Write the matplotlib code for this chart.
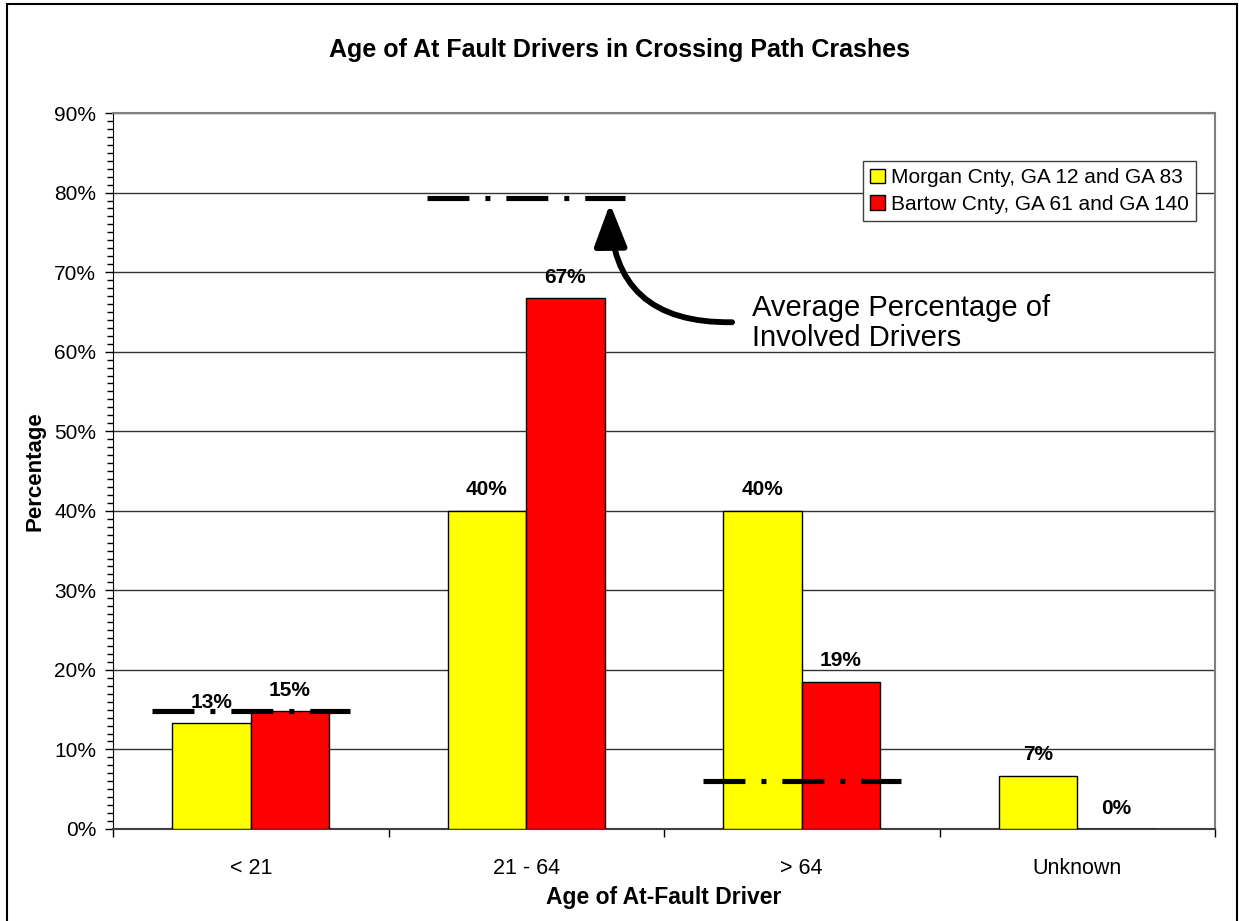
import numpy as np
import matplotlib
matplotlib.use("Agg")
import matplotlib.pyplot as plt
from matplotlib.patches import Patch, Rectangle
from matplotlib.ticker import MultipleLocator, FuncFormatter, FixedLocator

plt.rcParams['font.family'] = ['Liberation Sans', 'DejaVu Sans']
plt.rcParams['lines.scale_dashes'] = False

categories = ['< 21', '21 - 64', '> 64', 'Unknown']
morgan = [13.3, 40.0, 40.0, 6.7]
bartow = [14.8, 66.7, 18.52, 0.0]
avg_involved = [14.8, 79.3, 6.0]   # no line for Unknown
series_names = ['Morgan Cnty, GA 12 and GA 83', 'Bartow Cnty, GA 61 and GA 140']

fig = plt.figure(figsize=(12.39, 9.21), dpi=100)
ax = fig.add_axes([113/1239, 1 - 829/921, (1215-113)/1239, (829-113)/921])

x = np.arange(len(categories))
w = 0.285
ax.bar(x - w/2, morgan, w, color='#FFFF00', edgecolor='black', linewidth=1.0, zorder=3)
ax.bar(x + w/2, bartow, w, color='#FF0000', edgecolor='black', linewidth=1.0, zorder=3)

# value labels
for xs, vals in [(x - w/2, morgan), (x + w/2, bartow)]:
    for xi, v in zip(xs, vals):
        ax.annotate(f"{v:.0f}%", (xi, v), xytext=(0, 15), textcoords='offset points',
                    ha='center', va='center', fontsize=15, fontweight='bold', zorder=4)

# average percentage of involved drivers
for i, a in enumerate(avg_involved):
    ax.plot([i - 0.36, i + 0.36], [a, a], color='black', linewidth=3.7,
            linestyle=(0, (30.2, 11.5, 3.6, 11.5)), solid_capstyle='butt',
            dash_capstyle='butt', zorder=5)

ax.annotate('', xy=(1.304, 78.6), xytext=(1.747, 63.7),
            arrowprops=dict(arrowstyle='-|>,head_length=1.3,head_width=0.5',
                            connectionstyle='arc3,rad=-0.5', color='black',
                            linewidth=4.2, mutation_scale=20, shrinkA=0, shrinkB=0),
            zorder=6)
ax.text(1.82, 63.6, 'Average Percentage of\nInvolved Drivers', fontsize=21,
        ha='left', va='center', linespacing=1.1, zorder=6)

ax.set_xlim(-0.5, 3.5)
ax.set_ylim(0, 90)
ax.yaxis.set_major_locator(MultipleLocator(10))
ax.yaxis.set_minor_locator(MultipleLocator(1))
ax.yaxis.set_major_formatter(FuncFormatter(lambda v, p: f"{v:.0f}%"))
ax.set_xticks(x)
ax.set_xticklabels(categories)
ax.xaxis.set_minor_locator(FixedLocator([-0.5, 0.5, 1.5, 2.5, 3.5]))
ax.tick_params(axis='x', which='major', length=0, pad=21, labelsize=15.5)
ax.tick_params(axis='x', which='minor', length=6, direction='out', width=1)
ax.tick_params(axis='y', which='major', length=6, direction='out', width=1, pad=6, labelsize=15)
ax.tick_params(axis='y', which='minor', length=4, direction='out', width=1)

ax.grid(axis='y', which='major', color='#333333', linewidth=1.0, zorder=0)
ax.set_axisbelow(True)
for s in ['top', 'right']:
    ax.spines[s].set_color('#808080')
    ax.spines[s].set_linewidth(1.5)
ax.spines['left'].set_color('black')
ax.spines['bottom'].set_color('#404040')
ax.spines['bottom'].set_linewidth(1.5)

ax.set_ylabel('Percentage', fontsize=16, fontweight='bold', labelpad=6)
ax.set_xlabel('Age of At-Fault Driver', fontsize=16.5, fontweight='bold', labelpad=5)
fig.text(0.5, 1 - 50/921, 'Age of At Fault Drivers in Crossing Path Crashes',
         ha='center', va='center', fontsize=18, fontweight='bold')

handles = [Patch(facecolor='#FFFF00', edgecolor='black', linewidth=1.0),
           Patch(facecolor='#FF0000', edgecolor='black', linewidth=1.0)]
leg = ax.legend(handles, series_names, loc='upper right',
                bbox_to_anchor=(1196/1239, 1 - 161/921), bbox_transform=fig.transFigure,
                borderaxespad=0, fontsize=15, fancybox=False, framealpha=1,
                edgecolor='#404040', handlelength=0.7, handleheight=0.7,
                handletextpad=0.3, labelspacing=0.35, borderpad=0.35)
leg.get_frame().set_linewidth(1.0)

# outer chart border
fig.patches.append(Rectangle((7/1239, -0.01), (1237-7)/1239, 1.01 - 4/921,
                             transform=fig.transFigure, fill=False,
                             edgecolor='black', linewidth=1.5))

fig.savefig('out.png', dpi=100)
